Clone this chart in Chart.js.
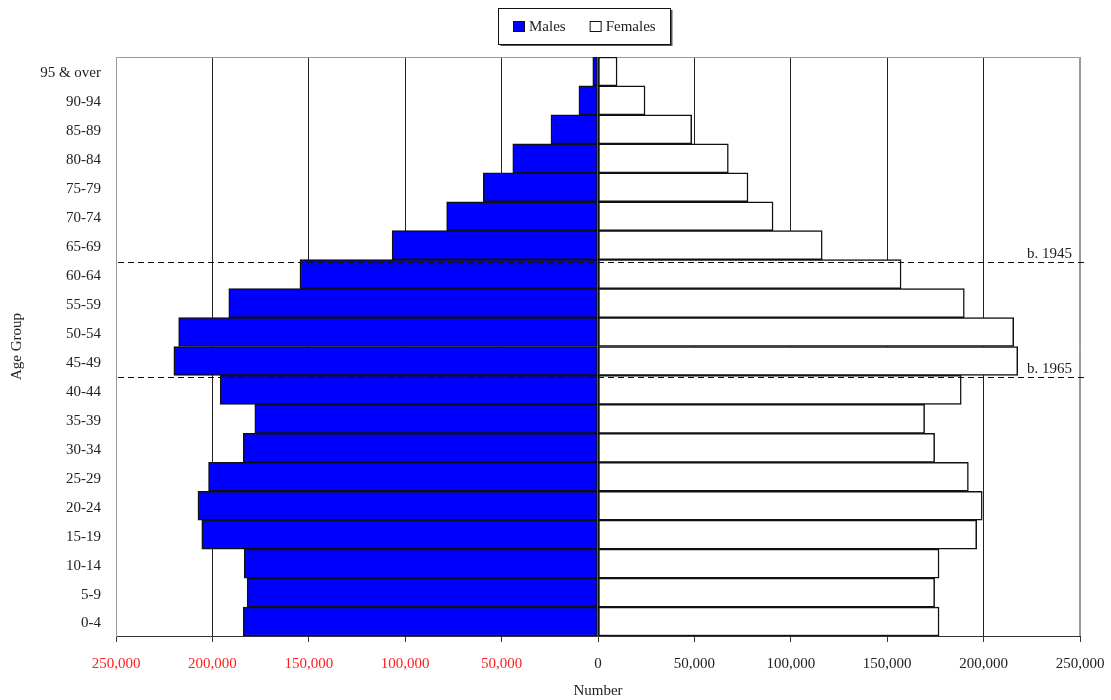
<!DOCTYPE html>
<html>
<head>
<meta charset="utf-8">
<title>Population by age group</title>
<script src="https://cdn.jsdelivr.net/npm/chart.js@4.4.1/dist/chart.umd.min.js"></script>
<style>
  html, body { margin: 0; padding: 0; background: #fff; }
  canvas { display: block; }
</style>
</head>
<body>
<canvas id="pyramid" width="1111" height="700"></canvas>
<script>
// youngest group first; the y axis is reversed so 0-4 ends up at the bottom
const ageGroups = ['0-4', '5-9', '10-14', '15-19', '20-24', '25-29', '30-34', '35-39', '40-44', '45-49',
  '50-54', '55-59', '60-64', '65-69', '70-74', '75-79', '80-84', '85-89', '90-94', '95 & over'];
const males = [184000, 182000, 183500, 205500, 207500, 202000, 184000, 178000, 196000, 220000,
  217500, 191500, 154600, 106800, 78500, 59500, 44200, 24400, 9900, 2700];
const females = [176900, 174600, 176900, 196400, 199300, 192100, 174600, 169400, 188400, 217700,
  215600, 190000, 157200, 116300, 90800, 77800, 67600, 48600, 24400, 9900];
const xTicks = [-250000, -200000, -150000, -100000, -50000, 0, 50000, 100000, 150000, 200000, 250000];
// cohort markers: dashed line drawn above the named age group
const cohortAfter = ['60-64', '40-44'];
const cohortLabels = ['b. 1945', 'b. 1965'];

const FONT = '"Liberation Serif", "Times New Roman", serif';
Chart.defaults.font.family = FONT;
Chart.defaults.font.size = 15;
Chart.defaults.color = '#222';

const cohortLines = {
  id: 'cohortLines',
  afterDatasetsDraw(chart) {
    const { ctx, chartArea: a, scales: { y } } = chart;
    ctx.save();
    cohortAfter.forEach((g, i) => {
      const idx = ageGroups.indexOf(g);
      const py = Math.round((y.getPixelForValue(idx) + y.getPixelForValue(idx + 1)) / 2) + 2.5;
      ctx.strokeStyle = '#111';
      ctx.lineWidth = 1;
      ctx.setLineDash([6, 4]);
      ctx.beginPath();
      ctx.moveTo(a.left + 2, py);
      ctx.lineTo(a.right + 6, py);
      ctx.stroke();
      ctx.setLineDash([]);
      ctx.fillStyle = '#222';
      ctx.font = '15px ' + FONT;
      ctx.textAlign = 'right';
      ctx.textBaseline = 'alphabetic';
      ctx.fillText(cohortLabels[i], a.right - 8, py - 5);
    });
    ctx.restore();
  }
};

const plotFrame = {
  id: 'plotFrame',
  beforeDatasetsDraw(chart) {
    const { ctx, chartArea: a } = chart;
    ctx.save();
    ctx.strokeStyle = '#9a9a9a';
    ctx.lineWidth = 1;
    ctx.beginPath();
    ctx.moveTo(a.left + 0.5, a.bottom);
    ctx.lineTo(a.left + 0.5, a.top + 0.5);
    ctx.lineTo(a.right - 0.5, a.top + 0.5);
    ctx.lineTo(a.right - 0.5, a.bottom);
    ctx.stroke();
    ctx.restore();
  }
};

const boxedLegend = {
  id: 'boxedLegend',
  afterDraw(chart) {
    const { ctx } = chart;
    const sets = chart.data.datasets;
    const box = 12, gap = 4, itemGap = 24, cx = 584, top = 8, h = 36;
    ctx.save();
    ctx.font = '15px ' + FONT;
    const widths = sets.map(d => box + gap + ctx.measureText(d.label).width);
    const total = widths.reduce((s, w) => s + w, 0) + itemGap * (sets.length - 1);
    const bw = 172;
    const bx = Math.round(cx - bw / 2) + 0.5;
    ctx.fillStyle = '#555';
    ctx.fillRect(bx + 2, top + 2, bw, h);
    ctx.fillStyle = '#fff';
    ctx.fillRect(bx, top + 0.5, bw, h);
    ctx.strokeStyle = '#111';
    ctx.lineWidth = 1;
    ctx.strokeRect(bx, top + 0.5, bw, h);
    let x = Math.round(cx - total / 2);
    const midY = top + h / 2;
    sets.forEach((d, i) => {
      ctx.fillStyle = d.backgroundColor;
      ctx.fillRect(x, midY - 5, box, box - 1);
      ctx.strokeStyle = '#111';
      ctx.strokeRect(x + 0.5, midY - 4.5, box - 1, box - 2);
      ctx.fillStyle = '#222';
      ctx.textAlign = 'left';
      ctx.textBaseline = 'middle';
      ctx.fillText(d.label, x + box + gap, midY + 1);
      x += widths[i] + itemGap;
    });
    ctx.restore();
  }
};

new Chart(document.getElementById('pyramid'), {
  type: 'bar',
  data: {
    labels: ageGroups,
    datasets: [
      {
        label: 'Males',
        data: males.map(v => -v),
        backgroundColor: '#0000ff',
        borderColor: '#111',
        borderWidth: 1.5,
        borderSkipped: false
      },
      {
        label: 'Females',
        data: females,
        backgroundColor: '#ffffff',
        borderColor: '#111',
        borderWidth: 1.5,
        borderSkipped: false
      }
    ]
  },
  options: {
    indexAxis: 'y',
    responsive: false,
    animation: false,
    layout: { padding: { top: 57, right: 31, left: 0, bottom: 0 } },
    datasets: { bar: { barPercentage: 1, categoryPercentage: 1 } },
    plugins: {
      legend: { display: false },
      tooltip: { enabled: false }
    },
    scales: {
      x: {
        stacked: true,
        min: -250000,
        max: 250000,
        afterBuildTicks: s => { s.ticks = xTicks.map(v => ({ value: v })); },
        afterFit: s => {
          s.height = 64;
          s.paddingLeft = 0;
          s.paddingRight = 0;
        },
        grid: {
          color: c => (Math.abs(c.tick.value) === 250000 ? '#9a9a9a' : '#222'),
          tickColor: '#333',
          tickLength: 6,
          lineWidth: 1
        },
        border: { color: '#333', width: 1 },
        ticks: {
          padding: 13,
          maxRotation: 0,
          color: c => (c.tick && c.tick.value < 0 ? '#ff2020' : '#222'),
          callback: v => Math.abs(v).toLocaleString('en-US')
        },
        title: {
          display: true,
          text: 'Number',
          font: { size: 15, lineHeight: 1 },
          padding: { top: 0, bottom: 1 }
        }
      },
      y: {
        stacked: true,
        reverse: true,
        afterFit: s => {
          s.width = 116;
          s.paddingTop = 0;
          s.paddingBottom = 0;
        },
        grid: { display: false, drawTicks: false },
        border: { color: '#9a9a9a' },
        ticks: { padding: 15, autoSkip: false, labelOffset: 2 },
        title: {
          display: true,
          text: 'Age Group',
          font: { size: 15 },
          padding: { top: 8, bottom: 0 }
        }
      }
    }
  },
  plugins: [plotFrame, cohortLines, boxedLegend]
});
</script>
</body>
</html>
